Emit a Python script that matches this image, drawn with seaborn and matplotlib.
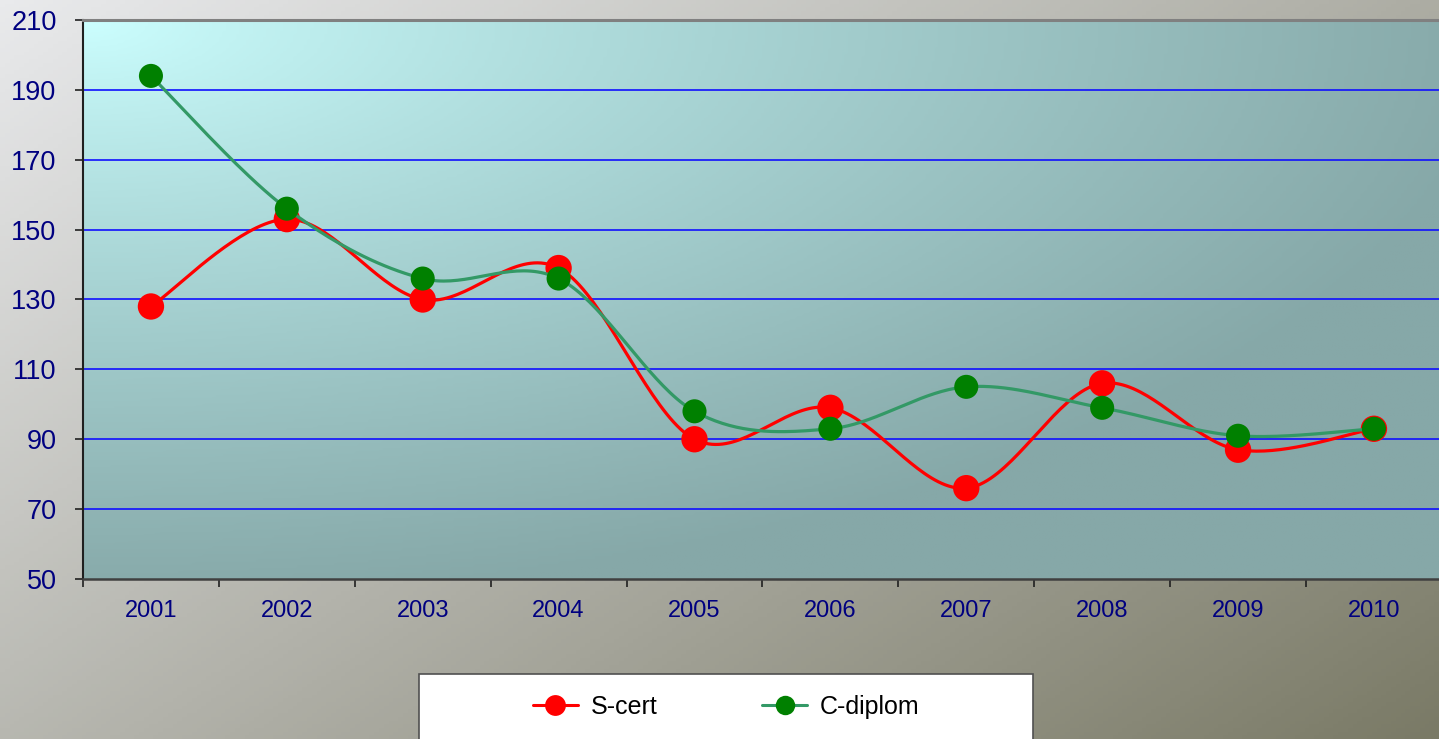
import numpy as np
import pandas as pd
import matplotlib
matplotlib.use("Agg")
import matplotlib.pyplot as plt
from matplotlib.colors import LinearSegmentedColormap
from matplotlib.patches import Rectangle
from matplotlib.lines import Line2D
import seaborn as sns

years = ['2001', '2002', '2003', '2004', '2005', '2006', '2007', '2008', '2009', '2010']
s_cert = [128, 153, 130, 139, 90, 99, 76, 106, 87, 93]
c_diplom = [194, 156, 136, 136, 98, 93, 105, 99, 91, 93]
y_ticks = [50, 70, 90, 110, 130, 150, 170, 190, 210]


def smooth(xs, ys, n=40):
    # Excel-style smoothed line: cubic Bezier with Catmull-Rom control points
    pts = np.column_stack([xs, ys]).astype(float)
    pad = np.vstack([pts[0], pts, pts[-1]])
    out = []
    t = np.linspace(0, 1, n)[:, None]
    for i in range(1, len(pad) - 2):
        p0, p1, p2, p3 = pad[i - 1], pad[i], pad[i + 1], pad[i + 2]
        c1 = p1 + (p2 - p0) / 6
        c2 = p2 - (p3 - p1) / 6
        seg = ((1 - t) ** 3) * p1 + 3 * ((1 - t) ** 2) * t * c1 + 3 * (1 - t) * t ** 2 * c2 + t ** 3 * p2
        out.append(seg)
    out = np.vstack(out)
    return out[:, 0], out[:, 1]


sns.set_style("white")
plt.rcParams['font.family'] = ['Liberation Sans', 'DejaVu Sans']

fig = plt.figure(figsize=(14.39, 7.39), dpi=100)

# figure background gradient
bg = fig.add_axes([0, 0, 1, 1], zorder=-10)
gx, gy = np.meshgrid(np.linspace(0, 1, 300), np.linspace(0, 1, 200))
bg_cmap = LinearSegmentedColormap.from_list('bg', ['#e9eaec', '#b2b2aa', '#7a7a66'])
bg.imshow(0.55 * gx + 0.45 * gy, cmap=bg_cmap, aspect='auto', extent=[0, 1, 1, 0], vmin=0, vmax=1)
bg.set_axis_off()

ax = fig.add_axes([83 / 1439, 160 / 739, 1 - 83 / 1439 + 0.002, 559 / 739])
ax.set_xlim(-0.5, 9.5)
ax.set_ylim(50, 210)

# plot area gradient from top-left corner
px, py = np.meshgrid(np.linspace(0, 1, 400), np.linspace(0, 1, 200))
tt = np.clip(np.sqrt(px ** 2 + py ** 2) / 1.05, 0, 1) ** 0.85
pa_cmap = LinearSegmentedColormap.from_list('pa', ['#ccffff', '#a8d4d4', '#86a8a8'])
ax.imshow(tt, cmap=pa_cmap, aspect='auto', extent=[-0.5, 9.5, 50, 210], origin='upper', zorder=0)

for v in y_ticks[1:-1]:
    ax.axhline(v, color='#1010ff', lw=1.2, zorder=1)

xi = np.arange(len(years))
df = pd.DataFrame({'x': np.concatenate([xi, xi]),
                   'value': s_cert + c_diplom,
                   'series': ['S-cert'] * len(years) + ['C-diplom'] * len(years)})

sx, sy = smooth(xi, s_cert)
ax.plot(sx, sy, color='#ff0000', lw=2.3, zorder=3)
sns.scatterplot(data=df[df.series == 'S-cert'], x='x', y='value', color='#ff0000',
                s=360, edgecolor='none', ax=ax, zorder=4, legend=False)
cx, cy = smooth(xi, c_diplom)
ax.plot(cx, cy, color='#339966', lw=2.3, zorder=5)
sns.scatterplot(data=df[df.series == 'C-diplom'], x='x', y='value', color='#008000',
                s=300, edgecolor='none', ax=ax, zorder=6, legend=False)

ax.set_xlabel('')
ax.set_ylabel('')
ax.set_xticks(xi)
ax.set_xticklabels(years)
ax.set_xticks(np.arange(-0.5, 10, 1), minor=True)
ax.set_yticks(y_ticks)
ax.tick_params(axis='x', which='major', length=0, pad=15, labelsize=17, labelcolor='#000080')
ax.tick_params(axis='x', which='minor', length=6, width=1.2, color='#202020', direction='out', bottom=True)
ax.tick_params(axis='y', length=6, width=1.2, color='#202020', direction='out', left=True, pad=13,
               labelsize=19.5, labelcolor='#000080')

ax.spines['left'].set_color('#202020')
ax.spines['left'].set_linewidth(1.5)
ax.spines['bottom'].set_color('#404040')
ax.spines['bottom'].set_linewidth(1.8)
ax.spines['top'].set_color('#808080')
ax.spines['top'].set_linewidth(2.2)
ax.spines['right'].set_visible(False)

# legend box
fig.patches.append(Rectangle((419 / 1439, -0.05), (1033 - 419) / 1439, 0.05 + (739 - 674) / 739,
                             transform=fig.transFigure, facecolor='white', edgecolor='#505050',
                             lw=1.2, zorder=5))
handles = [Line2D([], [], color='#ff0000', lw=2.2, marker='o', markersize=15, markeredgewidth=0),
           Line2D([], [], color='#339966', lw=2.2, marker='o', markerfacecolor='#008000',
                  markersize=14, markeredgewidth=0)]
leg = fig.legend(handles, ['S-cert', 'C-diplom'], loc='center', bbox_to_anchor=(0.5 * (419 + 1033) / 1439, 1 - 707 / 739),
                 ncol=2, frameon=False, fontsize=18, handlelength=1.8, handletextpad=0.5,
                 columnspacing=4.2, labelcolor='black')
leg.set_zorder(6)

fig.savefig('out.png', dpi=100)
